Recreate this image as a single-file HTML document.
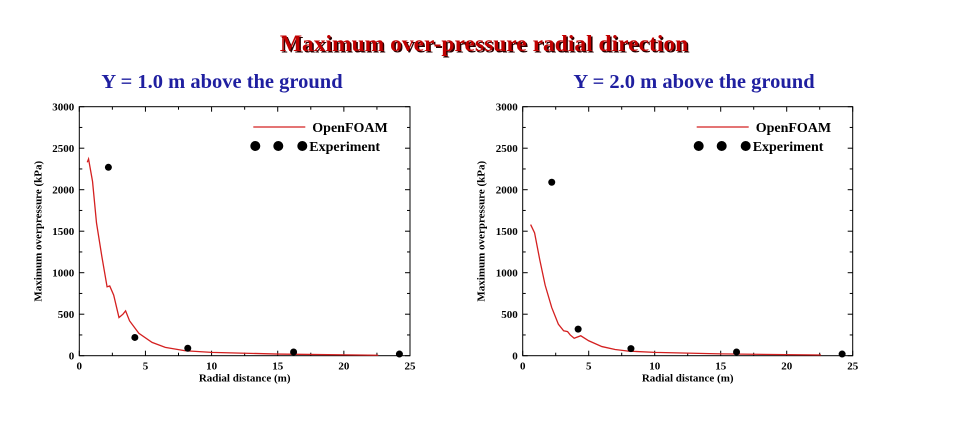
<!DOCTYPE html>
<html><head><meta charset="utf-8"><style>
body{margin:0;width:960px;height:429px;background:#fff;overflow:hidden}
svg{display:block}
text{font-family:"Liberation Serif",serif;font-weight:bold}
</style></head><body>
<svg width="960" height="429">
<text x="484" y="51" text-anchor="middle" font-size="23.5" fill="#2a0000" transform="translate(1.5,1.5)">Maximum over-pressure radial direction</text>
<text x="484" y="51" text-anchor="middle" font-size="23.5" fill="#c00000">Maximum over-pressure radial direction</text>
<text x="222" y="88" text-anchor="middle" font-size="20.5" fill="#1f1fa0">Y = 1.0 m  above the ground</text>
<text x="694" y="88" text-anchor="middle" font-size="20.5" fill="#1f1fa0">Y = 2.0 m  above the ground</text>
<g id="c1"></g>
<g id="c2"></g>
</svg>
<script>
const xTicks=[0,5,10,15,20,25];
const yTicks=[0,500,1000,1500,2000,2500,3000];
const leftLineX=[0.6,0.7,1.0,1.3,1.7,2.1,2.3,2.6,3.0,3.3,3.5,3.8,4.5,5.5,6.5,8,10,15,22.6];
const leftLineY=[2330,2370,2100,1600,1200,830,840,730,460,500,540,420,270,160,100,60,40,20,5];
const leftExpX=[2.2,4.2,8.2,16.2,24.2];
const leftExpY=[2270,220,90,45,20];
const rightLineX=[0.6,0.9,1.3,1.7,2.2,2.7,3.1,3.4,3.6,3.9,4.4,5,6,7,8,10,15,22.6];
const rightLineY=[1580,1480,1150,850,580,380,300,290,250,210,240,180,110,75,55,40,22,8];
const rightExpX=[2.2,4.2,8.2,16.2,24.2];
const rightExpY=[2090,320,85,45,20];
const NS="http://www.w3.org/2000/svg";
function mk(p,t,a){const e=document.createElementNS(NS,t);for(const k in a)e.setAttribute(k,a[k]);p.appendChild(e);return e;}
function chart(id,L,R,lx,ly,ex,ey){
 const g=document.getElementById(id);const T=106.7,B=355.7;
 const sx=v=>L+(R-L)*v/25, sy=v=>B-(B-T)*v/3000;
 const fr=mk(g,'rect',{x:L,y:T,width:R-L,height:B-T,fill:'none',stroke:'#000','stroke-width':1});
 
 for(let v=0;v<=25;v+=2.5){const x=sx(v),len=(v%5===0)?5:3;
  mk(g,'line',{x1:x,y1:B,x2:x,y2:B-len,stroke:'#000'});mk(g,'line',{x1:x,y1:T,x2:x,y2:T+len,stroke:'#000'});}
 for(let v=0;v<=3000;v+=250){const y=sy(v),len=(v%500===0)?5:3;
  mk(g,'line',{x1:L,y1:y,x2:L+len,y2:y,stroke:'#000'});mk(g,'line',{x1:R,y1:y,x2:R-len,y2:y,stroke:'#000'});}
 xTicks.forEach(v=>{const t=mk(g,'text',{x:sx(v),y:B+14,'text-anchor':'middle','font-size':11});t.textContent=v;
  });
 yTicks.forEach(v=>{const t=mk(g,'text',{x:L-5,y:sy(v)+4,'text-anchor':'end','font-size':11});t.textContent=v;
  });
 const xt=mk(g,'text',{x:(L+R)/2,y:B+26,'text-anchor':'middle','font-size':11});xt.textContent='Radial distance (m)';
 
 const yt=mk(g,'text',{x:0,y:0,'text-anchor':'middle','font-size':11,transform:`translate(${L-38},${(T+B)/2}) rotate(-90)`});yt.textContent='Maximum overpressure (kPa)';
 
 const pl=mk(g,'polyline',{points:lx.map((x,i)=>sx(x)+','+sy(ly[i])).join(' '),fill:'none',stroke:'#d42020','stroke-width':1.3});
 
 ex.forEach((x,i)=>{const c=mk(g,'circle',{cx:sx(x),cy:sy(ey[i]),r:3.5,fill:'#000'});
  });
 const o=L+174;
 const ll=mk(g,'line',{x1:o,y1:127,x2:o+52,y2:127,stroke:'#d42020','stroke-width':1.3});
 
 const lt=mk(g,'text',{x:o+59,y:132,'font-size':14});lt.textContent='OpenFOAM';
 
 [0,23,47].forEach(d=>{const c=mk(g,'circle',{cx:o+2+d,cy:146,r:5,fill:'#000'});
  });
 const et=mk(g,'text',{x:o+56,y:151,'font-size':14});et.textContent='Experiment';
 
}
chart('c1',79.3,410,leftLineX,leftLineY,leftExpX,leftExpY);
chart('c2',522.7,852.7,rightLineX,rightLineY,rightExpX,rightExpY);
</script>
</body></html>
